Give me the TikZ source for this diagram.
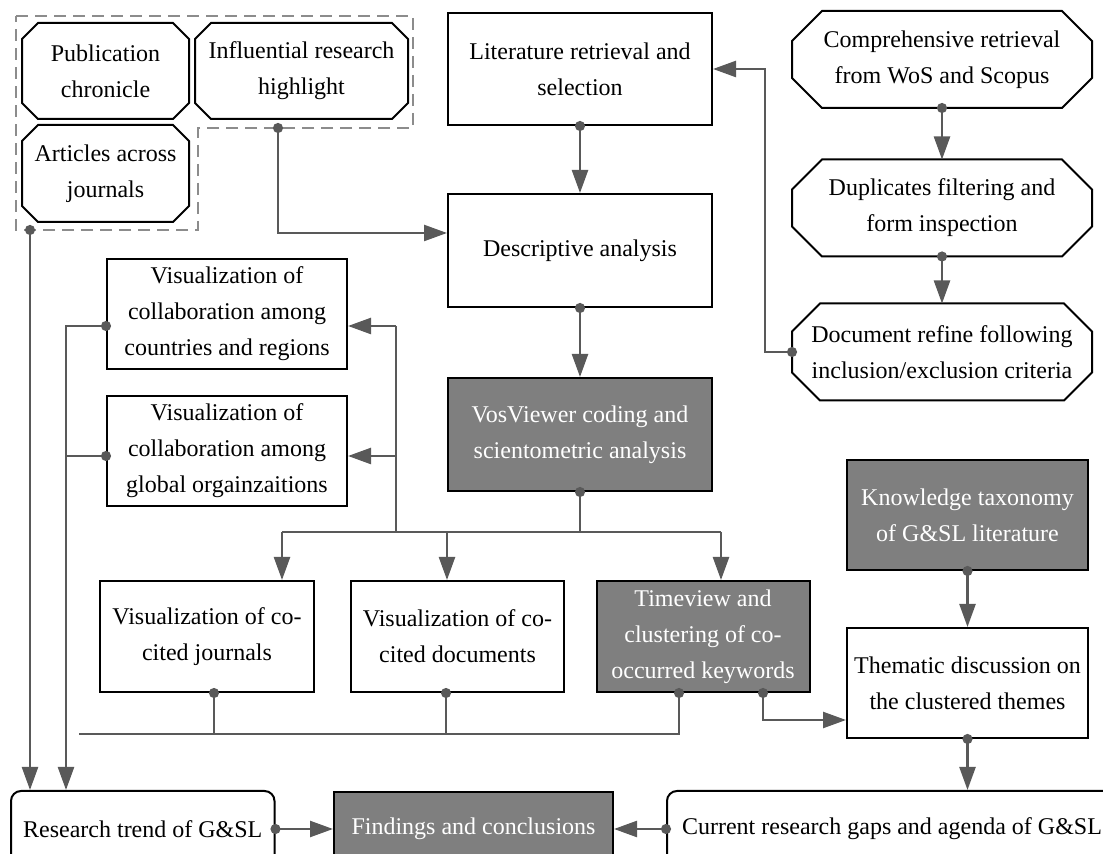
\documentclass[tikz,border=0pt]{standalone}
\usepackage{fontspec}
\setmainfont{Liberation Serif}
\usetikzlibrary{arrows.meta}

\definecolor{boxgray}{HTML}{7F7F7F}
\definecolor{linkgray}{HTML}{595959}
\definecolor{dashgray}{HTML}{8C8C8C}

\tikzset{%
  % Specifications for style of nodes:
         base/.style = {rectangle, draw = black, line width=1pt, fill=white, align=center, inner sep=1pt, font=\fontsize{12}{18}\selectfont},
         dark/.style = {base, fill=boxgray, text=white},
         octa/.style = {base, draw = none},
         octline/.style = {draw = black, line width=1pt},
         endbox/.style = {base, rounded corners=5pt},
         boxsize/.style 2 args = {minimum width=#1, minimum height=#2},
  % Specifications for style of connectors:
         wire/.style = {draw=linkgray, line width=1.2pt},
         dotwire/.style = {wire, {Circle[length=5pt]}-, shorten <=-2.5pt},
         link/.style = {wire, {Circle[length=5pt]}-{Triangle[length=11.5pt, width=8pt]}, shorten <=-2.5pt},
         tolink/.style = {wire, -{Triangle[length=11.5pt, width=8pt]}},
}

\begin{document}
\begin{tikzpicture}[x=0.5pt, y=-0.5pt]
    \useasboundingbox (0,0) rectangle (1103,854);

    % Dashed group
    \draw[dashgray, line width=1.2pt, dash pattern=on 6pt off 3.5pt] (16,16) -- (413,16) -- (413,128) -- (198,128) -- (198,230) -- (16,230) -- cycle;
    \coordinate (grphigh)  at (278,128);
    \coordinate (grpjourn) at (30,230);

    % Draw nodes
    \node (chron)    [octa, boxsize={82.5pt}{47pt}]         at (105.5,71)  {Publication\\chronicle};
    \node (highl)    [octa, boxsize={105.5pt}{47pt}]        at (301.5,71)  {Influential research\\highlight};
    \node (acrossj)  [octa, boxsize={82.5pt}{47.5pt}]       at (105.5,173.5) {Articles across\\journals};

    \node (litret)   [base, boxsize={132pt}{56pt}]          at (580,69)    {Literature retrieval and\\selection};
    \node (descr)    [base, boxsize={132pt}{56.5pt}]        at (580,250.5) {Descriptive analysis};
    \node (vos)      [dark, boxsize={132pt}{56.5pt}]        at (580,434.5) {VosViewer coding and\\scientometric analysis};

    \node (comret)   [octa, boxsize={149pt}{47.5pt}]        at (942,59.5)  {Comprehensive retrieval\\from WoS and Scopus};
    \node (dupfilt)  [octa, boxsize={149pt}{47.5pt}]        at (942,208)   {Duplicates filtering and\\form inspection};
    \node (docref)   [octa, boxsize={149pt}{47.5pt}]        at (942,352)   {Document refine following\\inclusion/exclusion criteria};

    \node (country)  [base, boxsize={120pt}{55pt}]          at (227,314)   {Visualization of\\collaboration among\\countries and regions};
    \node (organ)    [base, boxsize={120pt}{55pt}]          at (227,451)   {Visualization of\\collaboration among\\global orgainzaitions};

    \node (cojourn)  [base, boxsize={107pt}{55.5pt}]        at (207,636.5) {Visualization of co-\\cited journals};
    \node (codoc)    [base, boxsize={106.5pt}{55.5pt}]      at (457.5,636.5) {Visualization of co-\\cited documents};
    \node (timeview) [dark, boxsize={106.5pt}{55.5pt}]      at (703,636.5) {Timeview and\\clustering of co-\\occurred keywords};

    \node (taxonomy) [dark, boxsize={120.5pt}{55pt}]        at (967.5,515) {Knowledge taxonomy\\of G\&SL literature};
    \node (thematic) [base, boxsize={120.5pt}{55pt}]        at (967.5,683) {Thematic discussion on\\the clustered themes};

    \node (trend)    [endbox, boxsize={131.75pt}{38pt}]     at (142.75,829) {Research trend of G\&SL};
    \node (findings) [dark, boxsize={139.5pt}{37pt}]        at (473.5,829) {Findings and conclusions};
    \node (gaps)     [endbox, boxsize={225pt}{38pt}]        at (892,829)   {Current research gaps and agenda of G\&SL};

    % Octagon outlines
    \foreach \n/\c in {chron/8, highl/8, acrossj/8, comret/15, dupfilt/15, docref/14}
        \draw[octline] ([xshift=\c pt]\n.north west) -- ([xshift=-\c pt]\n.north east) -- ([yshift=-\c pt]\n.north east)
            -- ([yshift=\c pt]\n.south east) -- ([xshift=-\c pt]\n.south east) -- ([xshift=\c pt]\n.south west)
            -- ([yshift=\c pt]\n.south west) -- ([yshift=-\c pt]\n.north west) -- cycle;

    % Draw arrows
    \draw[link] (litret.south) -- (descr.north);
    \draw[link] (descr.south) -- (vos.north);
    \draw[link] (comret.south) -- (dupfilt.north);
    \draw[link] (dupfilt.south) -- (docref.north);
    \draw[link] (docref.west) -- ++(-27,0) |- (litret.east);
    \draw[link] (grphigh) |- (descr.west |- 0,233);
    \draw[link] (grpjourn) -- (grpjourn |- trend.north);

    \coordinate (lbus) at (66,326);
    \draw[link] (country.west |- lbus) -- (lbus) -- (lbus |- trend.north);
    \draw[dotwire] (organ.west |- 0,456) -- (lbus |- 0,456);

    \coordinate (rbus) at (396,326);
    \draw[wire] (rbus) -- (396,532);
    \draw[tolink] (rbus) -- (country.east |- rbus);
    \draw[tolink] (rbus |- 0,456) -- (organ.east |- 0,456);

    \coordinate (busL) at (282,532);
    \coordinate (busR) at (721,532);
    \draw[dotwire] (vos.south) -- (vos.south |- busL);
    \draw[wire] (busL) -- (busR);
    \draw[tolink] (busL) -- (busL |- cojourn.north);
    \draw[tolink] (447,532) -- (447,0 |- codoc.north);
    \draw[tolink] (busR) -- (busR |- timeview.north);

    \draw[dotwire] (cojourn.south -| 214,0) -- (214,734);
    \draw[dotwire] (codoc.south -| 446,0) -- (446,734);
    \draw[dotwire] (timeview.south -| 679,0) -- (679,734) -- (79,734);
    \draw[link] (timeview.south -| 763,0) |- (thematic.west |- 0,720);

    \draw[link] (taxonomy.south) -- (thematic.north);
    \draw[link] (thematic.south) -- (thematic.south |- gaps.north);
    \draw[link] (trend.east) -- (findings.west);
    \draw[link] (gaps.west) -- (findings.east);
\end{tikzpicture}
\end{document}
